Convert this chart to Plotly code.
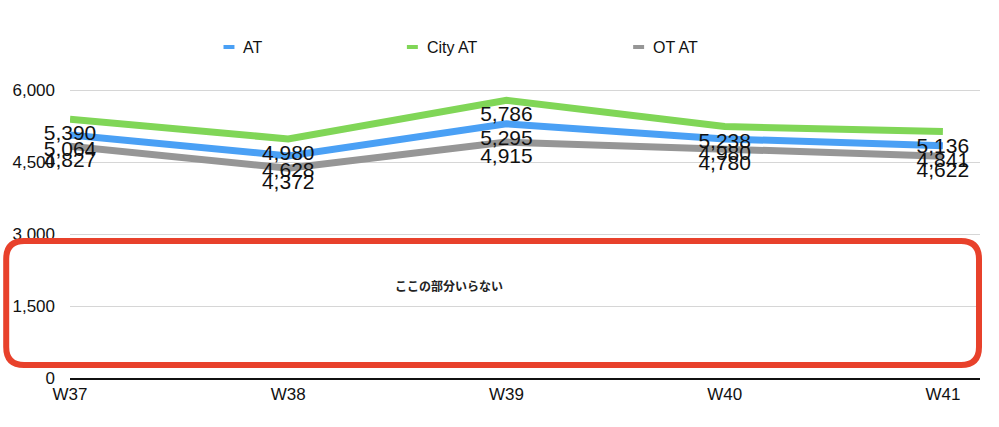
import plotly.graph_objects as go

# ---- data ----
weeks = ["W37", "W38", "W39", "W40", "W41"]
series_names = ["AT", "City AT", "OT AT"]
at_values = [5064, 4628, 5295, 4980, 4841]
city_at_values = [5390, 4980, 5786, 5238, 5136]
ot_at_values = [4827, 4372, 4915, 4780, 4622]
y_ticks = [0, 1500, 3000, 4500, 6000]
note_text = "ここの部分いらない"

colors = ["#4aa0f5", "#80d657", "#969696"]
series_values = [at_values, city_at_values, ot_at_values]

W, H = 999, 427
ML, MR, MT, MB = 67, 19, 80, 49
PW, PH = W - ML - MR, H - MT - MB


def px_x(px):
    return (px - ML) / PW


def px_y(py):
    return (H - MB - py) / PH


x_idx = list(range(len(weeks)))

fig = go.Figure()
# lines first
for name, vals, col in zip(series_names, series_values, colors):
    fig.add_trace(go.Scatter(
        x=x_idx, y=vals, mode="lines", name=name,
        line=dict(color=col, width=7), showlegend=False,
        hoverinfo="skip"))
# value labels on top (invisible markers push text a bit lower)
for name, vals in zip(series_names, series_values):
    fig.add_trace(go.Scatter(
        x=x_idx, y=vals, mode="markers+text", name=name + " labels",
        marker=dict(size=7, opacity=0),
        text=[f"{v:,}" for v in vals], textposition="bottom center",
        textfont=dict(family="Liberation Sans, Arial, sans-serif", size=21, color="#111111"),
        showlegend=False, hoverinfo="skip", cliponaxis=False))

shapes = []
annotations = []

# custom legend
legend_sym_x = [221, 405, 632]
for name, col, sx in zip(series_names, colors, legend_sym_x):
    shapes.append(dict(type="line", xref="paper", yref="paper",
                       x0=px_x(sx), x1=px_x(sx + 11), y0=px_y(47), y1=px_y(47),
                       line=dict(color=col, width=4)))
    annotations.append(dict(xref="paper", yref="paper", x=px_x(sx + 18), y=px_y(47),
                            text=name, showarrow=False, xanchor="left", yanchor="middle",
                            font=dict(family="Liberation Sans, Arial, sans-serif", size=16, color="#111111")))

# red rounded rectangle
x0p, x1p, y0p, y1p, r = 3, 979, 241, 365, 18


def P(px, py):
    return f"{px_x(px):.5f},{px_y(py):.5f}"


path = (f"M {P(x0p + r, y0p)} L {P(x1p - r, y0p)} Q {P(x1p, y0p)} {P(x1p, y0p + r)} "
        f"L {P(x1p, y1p - r)} Q {P(x1p, y1p)} {P(x1p - r, y1p)} "
        f"L {P(x0p + r, y1p)} Q {P(x0p, y1p)} {P(x0p, y1p - r)} "
        f"L {P(x0p, y0p + r)} Q {P(x0p, y0p)} {P(x0p + r, y0p)} Z")
shapes.append(dict(type="path", xref="paper", yref="paper", path=path,
                   line=dict(color="#e8412b", width=6), layer="above"))

annotations.append(dict(xref="paper", yref="paper", x=px_x(447), y=px_y(285),
                        yanchor="middle",
                        text=f"<b>{note_text}</b>", showarrow=False,
                        font=dict(family="Noto Sans CJK JP", size=12, color="#222222")))

fig.update_layout(
    width=W, height=H,
    margin=dict(l=ML, r=MR, t=MT, b=MB),
    paper_bgcolor="white", plot_bgcolor="white",
    showlegend=False,
    shapes=shapes, annotations=annotations,
    xaxis=dict(range=[0, 4.17], tickmode="array", tickvals=x_idx, ticktext=weeks,
               showgrid=False, zeroline=False, showline=True, linecolor="#111111", linewidth=2,
               ticks="", tickfont=dict(family="Liberation Sans, Arial, sans-serif", size=17, color="#111111")),
    yaxis=dict(range=[0, PH / (288 / 6000)], tickmode="array", tickvals=y_ticks,
               tickformat=",", showgrid=True, gridcolor="#d6d6d6", gridwidth=1,
               zeroline=False, showline=False, ticks="", ticklabelstandoff=14,
               tickfont=dict(family="Liberation Sans, Arial, sans-serif", size=17, color="#111111")),
)

fig.write_html("out.html")
